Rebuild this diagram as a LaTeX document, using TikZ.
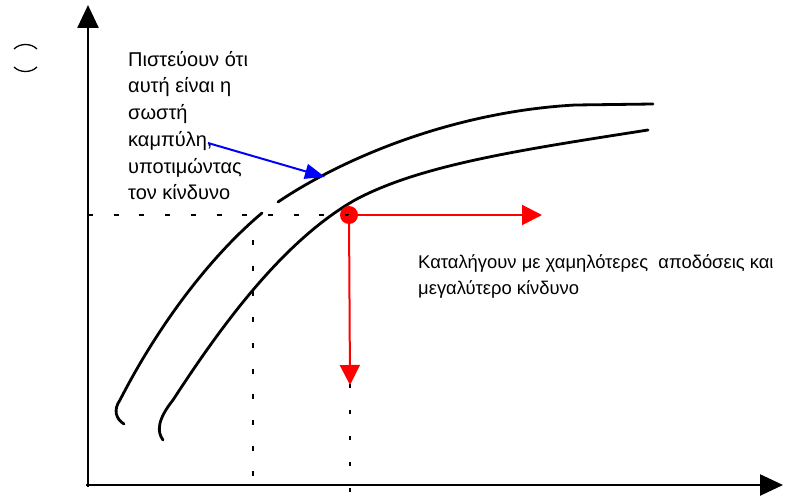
\documentclass[tikz,border=0pt]{standalone}
\usepackage{fontspec}
\setmainfont{Liberation Sans}
\usetikzlibrary{arrows.meta, positioning}
\definecolor{riskred}{HTML}{FF0000}
\definecolor{beliefblue}{HTML}{0000FF}

\begin{document}
\begin{tikzpicture}[x=1pt, y=-1pt,
    axis/.style={line width=2.6pt, -{Triangle[length=23pt,width=21pt]}},
    curve/.style={line width=2.8pt, line cap=round, line join=round},
    guide/.style={line width=1.8pt, dash pattern=on 5pt off 20.7pt},
    label/.style={font=\fontsize{20}{26.7}\selectfont, align=left, inner sep=0pt, anchor=north west},
    redarrow/.style={draw=riskred, line width=2pt, -{Triangle[length=20pt,width=20pt]}}]
  \useasboundingbox (0,0) rectangle (802,495);

  % Axes
  \draw[axis] (88,487) -- (88,5);
  \draw[axis] (86,485) -- (783,485);

  % Symbol beside the axis
  \draw[line width=1.3pt] (14,49) .. controls (20,43) and (31,43) .. (37,49);
  \draw[line width=1.3pt] (14,67) .. controls (20,73) and (31,73) .. (37,67);

  % Perceived curve (upper)
  \draw[curve] (124,424) .. controls (116,419) and (113,410) .. (120,400)
    .. controls (160,322) and (212,255) .. (262,213);
  \draw[curve] (278,202) .. controls (340,160) and (450,112) .. (575,105) -- (653,104);

  % Real curve (lower)
  \draw[curve] (163,440) .. controls (157,432) and (157,420) .. (173,400)
    .. controls (225,320) and (285,240) .. (355,200)
    .. controls (420,165) and (520,150) .. (648,130);

  % Guides
  \node[circle, fill=riskred, inner sep=0pt, minimum size=18pt] (pt) at (349,215) {};
  \draw[guide] (88,215) -- (pt.center);
  \draw[guide] (253,240) -- (253,487);
  \draw[guide, dash pattern=on 4pt off 22pt] (350,384) -- (350,492);

  % Red arrows
  \coordinate (rtip) at (542,215);
  \coordinate (dtip) at (350,385);
  \draw[redarrow] (pt.center) -- (rtip);
  \draw[redarrow] (pt.center) -- (dtip);

  % Labels
  \node[label] (belief) at (128,51) {Πιστεύουν ότι\\αυτή είναι η\\σωστή\\καμπύλη,\\υποτιμώντας\\τον κίνδυνο};
  \node[label, font=\fontsize{18.4}{26.5}\selectfont] (result) at (418,254) {Καταλήγουν με χαμηλότερες\ \ αποδόσεις και\\μεγαλύτερο κίνδυνο};

  % Blue arrow
  \coordinate (bfrom) at (208,143);
  \coordinate (bto) at (325,177);
  \draw[beliefblue, line width=2pt, -{Triangle[length=20pt,width=15pt]}] (bfrom) -- (bto);
\end{tikzpicture}
\end{document}
